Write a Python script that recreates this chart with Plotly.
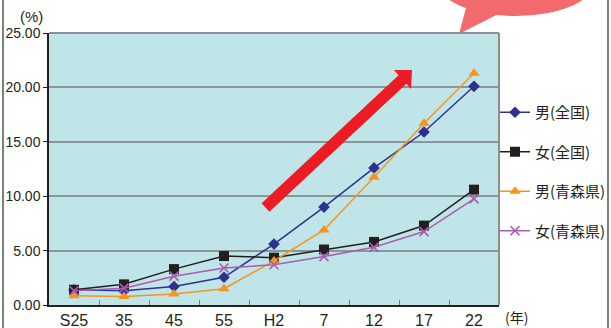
import plotly.graph_objects as go

# survey years (Showa S25..55, Heisei H2..22)
years = ["S25", "35", "45", "55", "H2", "7", "12", "17", "22"]

# rates in percent
male_national = [1.4, 1.3, 1.7, 2.55, 5.6, 9.0, 12.6, 15.9, 20.1]
female_national = [1.4, 1.9, 3.3, 4.5, 4.35, 5.1, 5.8, 7.3, 10.6]
male_aomori = [0.86, 0.77, 1.0, 1.5, 4.05, 6.9, 11.75, 16.7, 21.3]
female_aomori = [1.3, 1.55, 2.65, 3.4, 3.7, 4.45, 5.3, 6.75, 9.75]

series_names = ["男(全国)", "女(全国)", "男(青森県)", "女(青森県)"]
series_values = [male_national, female_national, male_aomori, female_aomori]
series_colors = ["#2E3192", "#231F20", "#F7941D", "#A95CB0"]
series_symbols = ["diamond", "square", "triangle-up", "x-thin"]
series_sizes = [9, 10, 10, 9]

W, H = 611, 328
ML, MR, MT, MB = 49, 112, 33, 23
PW, PH = W - ML - MR, H - MT - MB


def px(x):
    return (x - ML) / PW


def py(y):
    return (H - MB - y) / PH


fig = go.Figure()
for i, (name, vals, col, sym, sz) in enumerate(
    zip(series_names, series_values, series_colors, series_symbols, series_sizes)
):
    marker = dict(symbol=sym, size=sz, color=col)
    if sym == "x-thin":
        marker["line"] = dict(color=col, width=1.6)
    fig.add_trace(
        go.Scatter(
            x=years,
            y=vals,
            name=name,
            mode="lines+markers",
            line=dict(color=col, width=1.5),
            marker=marker,
            legendgroup=f"g{i}",
        )
    )

shapes = []
# speech bubble in the top-right corner
bubble = "#F26A6B"
shapes.append(dict(type="circle", xref="paper", yref="paper",
                   x0=px(436), x1=px(596), y0=py(-56), y1=py(16),
                   fillcolor=bubble, line=dict(width=0), layer="above"))
shapes.append(dict(type="path", xref="paper", yref="paper",
                   path=f"M{px(466)},{py(8)} L{px(459)},{py(34)} L{px(502)},{py(12)} Z",
                   fillcolor=bubble, line=dict(width=0), layer="above"))
# upward trend arrow
arrow_pts = [(261.6, 203.3), (398.6, 75.3), (394, 70), (412, 70),
             (411, 89), (406.4, 83.7), (269.4, 211.7)]
arrow_path = "M" + " L".join(f"{px(a)},{py(b)}" for a, b in arrow_pts) + " Z"
shapes.append(dict(type="path", xref="paper", yref="paper", path=arrow_path,
                   fillcolor="#ED1C24", line=dict(width=0), layer="above"))
# plot frame, top and right edges
shapes.append(dict(type="line", xref="paper", yref="paper", x0=0, x1=1, y0=1, y1=1,
                   line=dict(color="#8E8E8E", width=2)))
shapes.append(dict(type="line", xref="paper", yref="paper", x0=1, x1=1, y0=0, y1=1,
                   line=dict(color="#8E8E8E", width=2)))
# page border lines
shapes.append(dict(type="line", xref="paper", yref="paper", x0=px(3), x1=px(3),
                   y0=py(H), y1=py(0), line=dict(color="#4A5A4A", width=1.5)))
shapes.append(dict(type="line", xref="paper", yref="paper", x0=px(608), x1=px(608),
                   y0=py(H), y1=py(0), line=dict(color="#4A5A4A", width=1.5)))

fig.update_layout(
    width=W, height=H,
    margin=dict(l=ML, r=MR, t=MT, b=MB, pad=0, autoexpand=False),
    paper_bgcolor="white",
    plot_bgcolor="#C0E5E8",
    font=dict(family="Liberation Sans, Arial, Noto Sans CJK JP", color="#231F20"),
    showlegend=True,
    legend=dict(
        x=px(495), y=py(96), xanchor="left", yanchor="top",
        font=dict(size=15, family="Noto Sans CJK JP, Liberation Sans"),
        tracegroupgap=17, itemwidth=30, bgcolor="rgba(0,0,0,0)",
    ),
    shapes=shapes,
    annotations=[
        dict(text="(%)", xref="paper", yref="paper", x=px(31), y=py(16),
             xanchor="center", yanchor="middle",
             showarrow=False, font=dict(size=15)),
        dict(text="(年)", xref="paper", yref="paper", x=px(516), y=py(317),
             xanchor="center", yanchor="middle",
             showarrow=False, font=dict(size=14, family="Noto Sans CJK JP")),
    ],
)

fig.update_xaxes(
    type="category", range=[-0.5, 8.5], showgrid=False,
    showline=True, linecolor="#231F20", linewidth=1.5,
    ticks="inside", tickson="boundaries", ticklen=5, tickcolor="#777777",
    tickfont=dict(size=16), fixedrange=True,
)
fig.update_yaxes(
    range=[0, 25], dtick=5, tickformat=".2f",
    showgrid=True, gridcolor="#8A9697", gridwidth=1.5, zeroline=False,
    showline=True, linecolor="#231F20", linewidth=1.5,
    ticks="outside", ticklen=4, tickcolor="#231F20",
    tickfont=dict(size=14), fixedrange=True,
)

fig.write_html("out.html")
